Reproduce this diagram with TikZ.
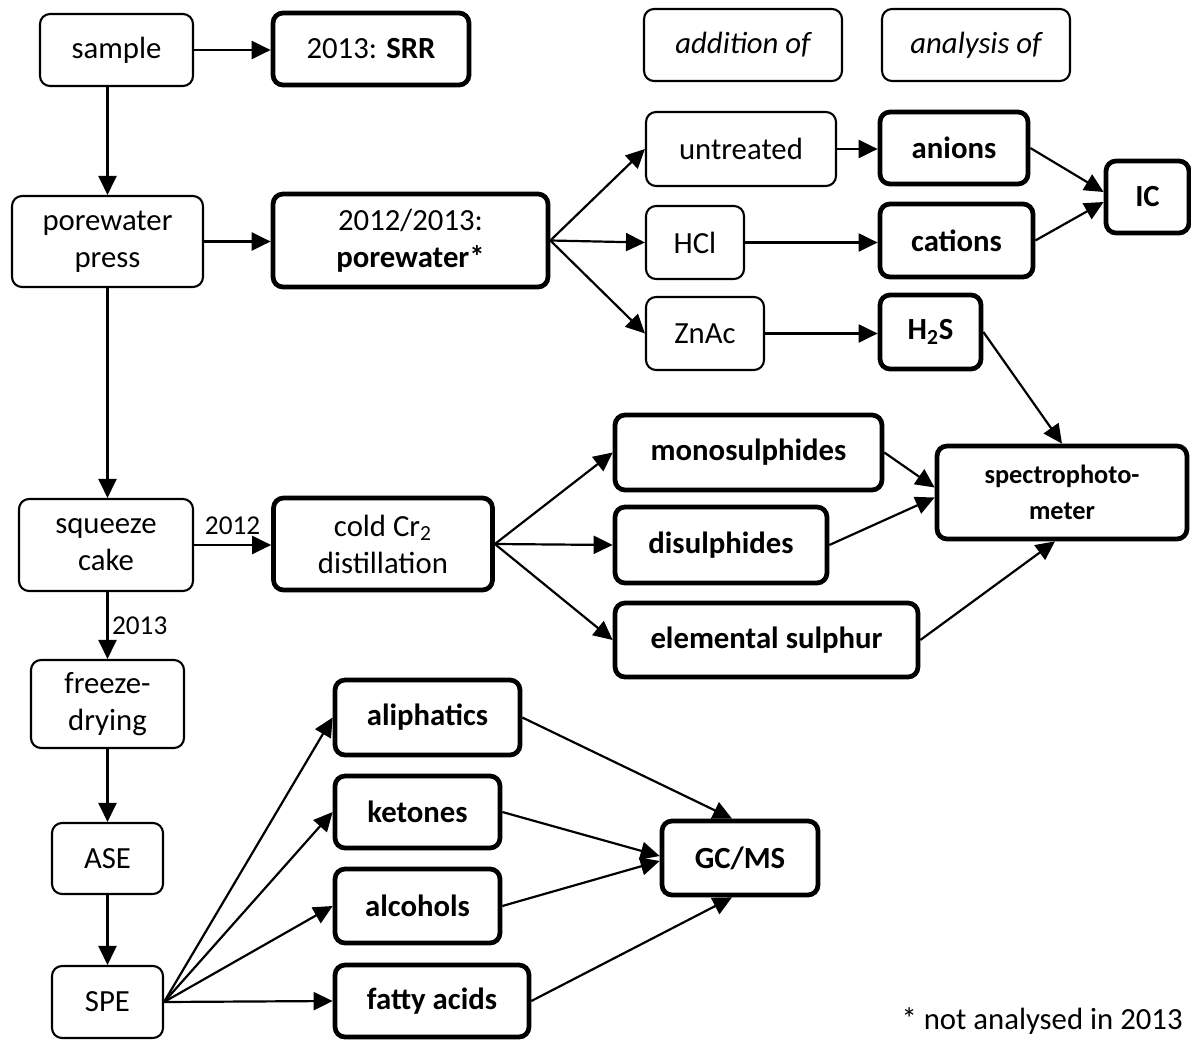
\documentclass[tikz,border=0pt]{standalone}
\usepackage{fontspec}
\setmainfont{Carlito}
\usepackage{tikz}
\usetikzlibrary{arrows.meta, calc}

\begin{document}
\begin{tikzpicture}[
    x=0.02cm, y=-0.02cm,
    prep/.style={rectangle, rounded corners=0.2cm, draw=black, line width=1.2pt, fill=white, align=center, inner sep=2pt, font=\fontsize{17.5}{21}\selectfont},
    target/.style={prep, line width=2.7pt, font=\fontsize{17.5}{21}\selectfont\bfseries},
    flow/.style={-{Triangle[length=0.38cm,width=0.36cm]}, line width=1.25pt},
    yearlabel/.style={font=\fontsize{15.5}{18}\selectfont, inner sep=2pt},
    note/.style={font=\fontsize{17.5}{21}\selectfont, inner sep=0pt}
]
\useasboundingbox (0,0) rectangle (1191,1041);

% header boxes
\node[prep, minimum width=3.96cm, minimum height=1.44cm] (addition) at (743,45) {\itshape addition of};
\node[prep, minimum width=3.76cm, minimum height=1.44cm] (analysis) at (976,45) {\itshape analysis of};

% sample and porewater
\node[prep, minimum width=3.06cm, minimum height=1.44cm] (sample) at (116.5,50) {sample};
\node[target, minimum width=3.92cm, minimum height=1.44cm] (srr) at (371,49) {\mdseries 2013: \bfseries SRR};
\node[prep, minimum width=3.82cm, minimum height=1.82cm] (press) at (107.5,241.5) {porewater\\press};
\node[target, minimum width=5.50cm, minimum height=1.86cm] (porewater) at (410.5,240.5) {\mdseries 2012/2013:\\\bfseries porewater*};

\node[prep, minimum width=3.80cm, minimum height=1.48cm] (untreated) at (741,149) {untreated};
\node[prep, minimum width=1.96cm, minimum height=1.46cm] (hcl) at (695,242.5) {HCl};
\node[prep, minimum width=2.36cm, minimum height=1.46cm] (znac) at (705,333.5) {ZnAc};
\node[target, minimum width=2.96cm, minimum height=1.44cm] (anions) at (954,148) {anions};
\node[target, minimum width=3.06cm, minimum height=1.46cm] (cations) at (956.5,240.5) {cations};
\node[target, minimum width=2.02cm, minimum height=1.48cm] (hts) at (930.5,332) {H\textsubscript{2}S};
\node[target, minimum width=1.66cm, minimum height=1.44cm] (ic) at (1147.5,197) {IC};

% sediment
\node[prep, minimum width=3.48cm, minimum height=1.84cm] (squeeze) at (106,545) {squeeze\\cake};
\node[target, minimum width=4.38cm, minimum height=1.84cm] (cold) at (383,544) {\mdseries cold Cr\textsubscript{2}\\\mdseries distillation};
\node[target, minimum width=5.34cm, minimum height=1.50cm] (mono) at (748.5,452.5) {monosulphides};
\node[target, minimum width=4.24cm, minimum height=1.52cm] (di) at (721,545) {disulphides};
\node[target, minimum width=6.06cm, minimum height=1.48cm] (elem) at (766.5,640) {elemental sulphur};
\node[target, minimum width=5.00cm, minimum height=1.86cm, font=\fontsize{15}{20.5}\selectfont\bfseries] (spectro) at (1062,492.5) {spectrophoto-\\meter};

% lipids
\node[prep, minimum width=3.06cm, minimum height=1.76cm] (freeze) at (107.5,704) {freeze-\\drying};
\node[prep, minimum width=2.22cm, minimum height=1.42cm] (ase) at (107.5,858.5) {ASE};
\node[prep, minimum width=2.22cm, minimum height=1.44cm] (spe) at (107.5,1002) {SPE};
\node[target, minimum width=3.70cm, minimum height=1.50cm] (aliph) at (427.5,717.5) {aliphatics};
\node[target, minimum width=3.30cm, minimum height=1.44cm] (ketones) at (417.5,812) {ketones};
\node[target, minimum width=3.30cm, minimum height=1.48cm] (alcohols) at (417.5,906) {alcohols};
\node[target, minimum width=3.88cm, minimum height=1.44cm] (fatty) at (432,1001) {fatty acids};
\node[target, minimum width=3.12cm, minimum height=1.48cm] (gcms) at (740,858) {GC/MS};

\node[note, anchor=east] (footnote) at (1183,1021) {* not analysed in 2013};

% connectors
\draw[flow] (sample.east) -- (sample.east -| srr.west);
\draw[flow] (sample.south -| press.north) -- (press.north);
\draw[flow] (press.east) -- (press.east -| porewater.west);
\draw[flow] (press.south) -- (press.south |- squeeze.north);
\foreach \t in {untreated,hcl,znac}
    \draw[flow] (porewater.east) -- (\t.west);
\draw[flow] (untreated.east) -- (untreated.east -| anions.west);
\draw[flow] (hcl.east) -- (hcl.east -| cations.west);
\draw[flow] (znac.east) -- (znac.east -| hts.west);
\draw[flow] (anions.east) -- ([yshift=0.1cm]ic.west);
\draw[flow] (cations.east) -- ([yshift=-0.1cm]ic.west);
\draw[flow] (hts.east) -- (spectro.north);

\draw[flow] (squeeze.east) -- node[yearlabel,above,yshift=3pt] {2012} (squeeze.east -| cold.west);
\draw[flow] (squeeze.south -| freeze.north) -- node[yearlabel,right] {2013} (freeze.north);
\foreach \t in {mono,di,elem}
    \draw[flow] (cold.east) -- (\t.west);
\draw[flow] (mono.east) -- ([yshift=0.1cm]spectro.west);
\draw[flow] (di.east) -- ([yshift=-0.1cm]spectro.west);
\draw[flow] (elem.east) -- ([xshift=-0.14cm]spectro.south);

\draw[flow] (freeze.south) -- (ase.north);
\draw[flow] (ase.south) -- (spe.north);
\foreach \t in {aliph,ketones,alcohols,fatty}
    \draw[flow] (spe.east) -- (\t.west);
\draw[flow] (aliph.east) -- ([xshift=-0.16cm]gcms.north);
\draw[flow] (ketones.east) -- ([yshift=0.04cm]gcms.west);
\draw[flow] (alcohols.east) -- ([yshift=-0.06cm]gcms.west);
\draw[flow] (fatty.east) -- ([xshift=-0.16cm]gcms.south);
\end{tikzpicture}
\end{document}
